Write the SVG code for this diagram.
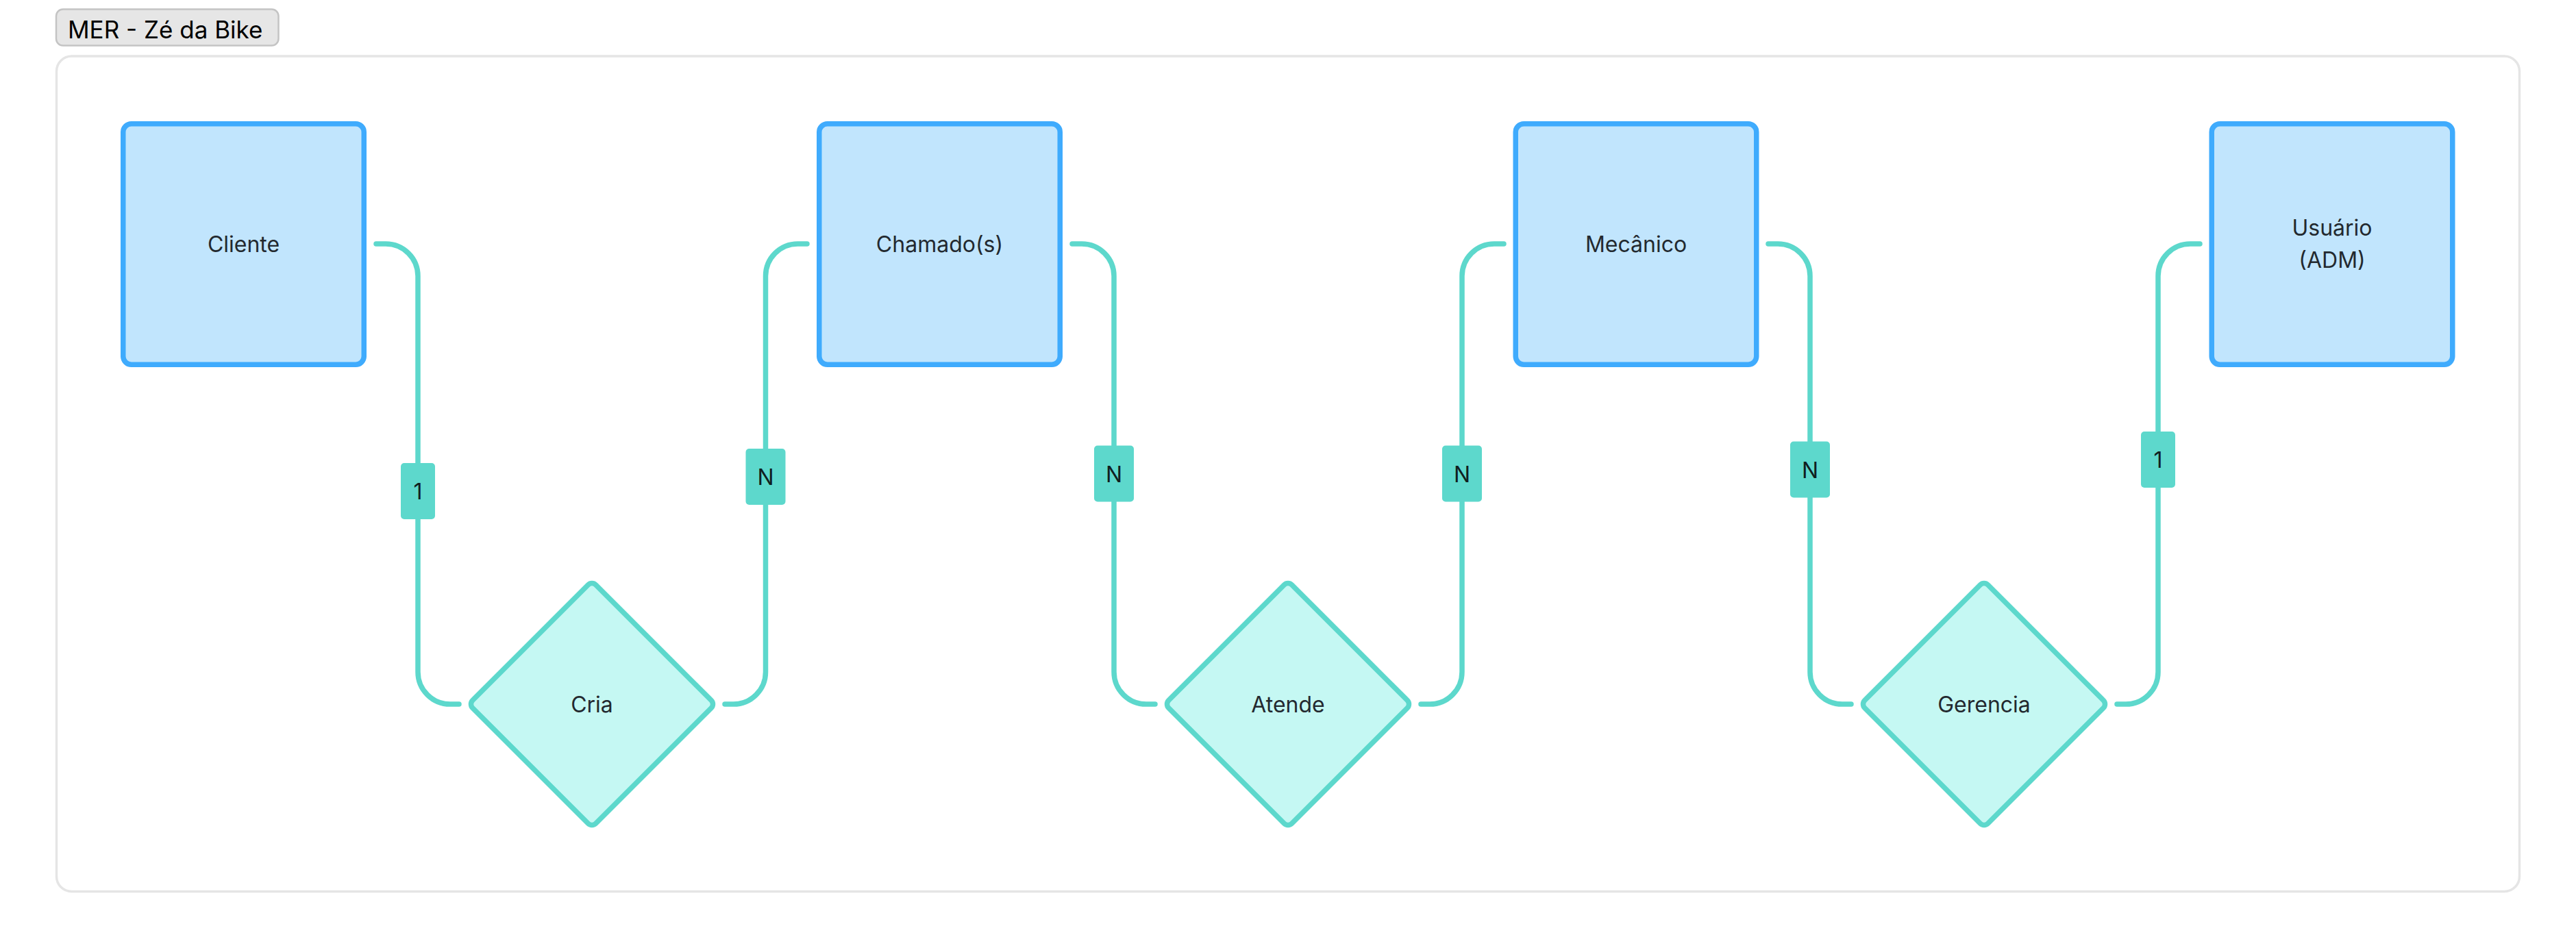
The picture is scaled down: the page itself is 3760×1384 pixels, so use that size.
<svg xmlns="http://www.w3.org/2000/svg" width="3760" height="1384" viewBox="0 0 3760 1384">
<defs>
<style>
.txt{font-family:Inter,"Noto Sans","Liberation Sans",sans-serif;font-size:32px;fill:#23292f;text-anchor:middle}
.ent{fill:#c1e5fd;stroke:#3fabfd;stroke-width:7.5}
.rel{fill:#c5f8f3;stroke:#5dd8cc;stroke-width:7.5}
.con{fill:none;stroke:#5dd8cc;stroke-width:7.5;stroke-linecap:round;stroke-linejoin:round}
.lbl{fill:#5dd8cc}
.ltx{font-family:Inter,"Noto Sans","Liberation Sans",sans-serif;font-size:32px;fill:#10201f;text-anchor:middle}
</style>
</defs>
<rect width="3760" height="1384" fill="#ffffff"/>
<g id="frame">
<rect x="82.5" y="82" width="3595" height="1219.5" rx="22" fill="#ffffff" stroke="#e5e5e5" stroke-width="3.5"/>
<rect x="82" y="13.5" width="324.5" height="53" rx="10" fill="#e6e6e6" stroke="#c4c4c4" stroke-width="2.5"/>
<text x="99" y="56" style="font-family:Inter,'Noto Sans','Liberation Sans',sans-serif;font-size:35px;fill:#000">MER - Zé da Bike</text>
</g>
<g id="connectors">
<path class="con" d="M549 356 H563 A47 47 0 0 1 610 403 V981 A47 47 0 0 0 657 1028 H670"/>
<path class="con" d="M1058 1028 H1070.5 A47 47 0 0 0 1117.5 981 V403 A47 47 0 0 1 1164.5 356 H1178"/>
<path class="con" d="M1565 356 H1579 A47 47 0 0 1 1626 403 V981 A47 47 0 0 0 1673 1028 H1686"/>
<path class="con" d="M2074 1028 H2087 A47 47 0 0 0 2134 981 V403 A47 47 0 0 1 2181 356 H2195"/>
<path class="con" d="M2581 356 H2595 A47 47 0 0 1 2642 403 V981 A47 47 0 0 0 2689 1028 H2702"/>
<path class="con" d="M3090 1028 H3103 A47 47 0 0 0 3150 981 V403 A47 47 0 0 1 3197 356 H3211"/>
<g id="labels">
<rect class="lbl" x="585" y="676" width="50" height="82" rx="5"/><text class="ltx" x="610" y="729">1</text>
<rect class="lbl" x="1088.5" y="655" width="58" height="82" rx="5"/><text class="ltx" x="1117.5" y="708">N</text>
<rect class="lbl" x="1597" y="650.5" width="58" height="82" rx="5"/><text class="ltx" x="1626" y="703.5">N</text>
<rect class="lbl" x="2105" y="650.5" width="58" height="82" rx="5"/><text class="ltx" x="2134" y="703.5">N</text>
<rect class="lbl" x="2613" y="644.5" width="58" height="82" rx="5"/><text class="ltx" x="2642" y="697.5">N</text>
<rect class="lbl" x="3125" y="630" width="50" height="82" rx="5"/><text class="ltx" x="3150" y="683">1</text>
</g>
</g>
<g id="cliente">
<rect class="ent" x="179.75" y="180.75" width="351.5" height="351.5" rx="12"/>
<text class="txt" x="355.5" y="368">Cliente</text>
</g>
<g id="chamados">
<rect class="ent" x="1195.75" y="180.75" width="351.5" height="351.5" rx="12"/>
<text class="txt" x="1371.5" y="368">Chamado(s)</text>
</g>
<g id="mecanico">
<rect class="ent" x="2212.25" y="180.75" width="351.5" height="351.5" rx="12"/>
<text class="txt" x="2388" y="368">Mecânico</text>
</g>
<g id="usuario">
<rect class="ent" x="3228.25" y="180.75" width="351.5" height="351.5" rx="12"/>
<text class="txt" x="3404" y="344">Usuário</text>
<text class="txt" x="3404" y="391">(ADM)</text>
</g>
<g id="cria">
<rect class="rel" x="-127.15" y="-127.15" width="254.3" height="254.3" rx="8" transform="translate(864 1028) rotate(45)"/>
<text class="txt" x="864" y="1040">Cria</text>
</g>
<g id="atende">
<rect class="rel" x="-127.15" y="-127.15" width="254.3" height="254.3" rx="8" transform="translate(1880 1028) rotate(45)"/>
<text class="txt" x="1880" y="1040">Atende</text>
</g>
<g id="gerencia">
<rect class="rel" x="-127.15" y="-127.15" width="254.3" height="254.3" rx="8" transform="translate(2896 1028) rotate(45)"/>
<text class="txt" x="2896" y="1040">Gerencia</text>
</g>
</svg>
